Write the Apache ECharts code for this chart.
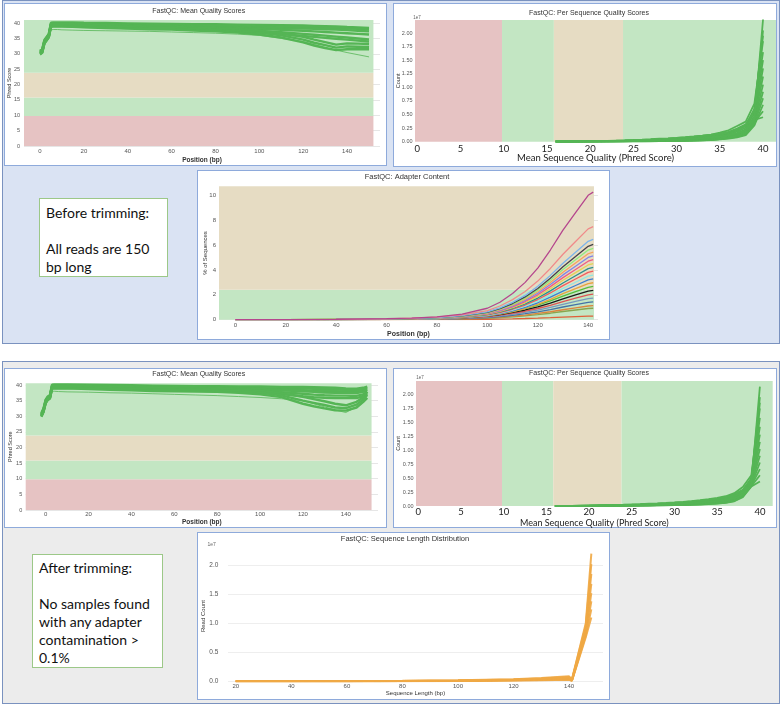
<!DOCTYPE html>
<html><head><meta charset="utf-8">
<script src="https://cdn.jsdelivr.net/npm/echarts/dist/echarts.min.js"></script>
<style>
html,body{margin:0;padding:0;background:#fff}
body{width:782px;height:706px;position:relative;overflow:hidden}
.sec,.panel,.chart,.note{position:absolute;box-sizing:border-box}
.sec{border:1.5px solid #7a92bf}
.panel{background:#fff;border:1.5px solid #8eaadb}
.note{background:#fff;border:1.5px solid #9cc888;font-family:Lato,"Open Sans",sans-serif;font-size:14px;line-height:18px;color:#111;padding-left:6px;white-space:nowrap}
</style></head>
<body>
<div class="sec" style="left:2px;top:0px;width:778px;height:344px;background:#dae3f3"></div>
<div class="sec" style="left:2px;top:361px;width:778px;height:343px;background:#ececec"></div>

<div class="panel" style="left:4px;top:3px;width:383px;height:163px"></div>
<div class="panel" style="left:393px;top:3px;width:384px;height:164px"></div>
<div class="panel" style="left:197px;top:170px;width:413px;height:170px"></div>
<div class="panel" style="left:4px;top:368px;width:383px;height:160px"></div>
<div class="panel" style="left:393px;top:368px;width:384px;height:160px"></div>
<div class="panel" style="left:197px;top:532px;width:413px;height:168px"></div>

<div class="note" style="left:39px;top:198px;width:129px;height:79px;padding-top:4.7px">Before trimming:<br><br>All reads are 150<br>bp long</div>
<div class="note" style="left:32px;top:554px;width:131px;height:114px;padding-top:3.7px">After trimming:<br><br>No samples found<br>with any adapter<br>contamination &gt;<br>0.1%</div>

<div id="cTL" class="chart"></div>
<div id="cTR" class="chart"></div>
<div id="cAD" class="chart"></div>
<div id="cBL" class="chart"></div>
<div id="cBR" class="chart"></div>
<div id="cSL" class="chart"></div>

<script>
// ---------------- DATA ----------------
// Phred band thresholds
const qualThresholds = [9.8, 15.8, 23.8];
const adapterThreshold = 2.4;

// Mean quality scores, before trimming
const mqBeforeX = [0,1,2,3,4,5,6,8,10,15,20,30,40,50,60,70,80,90,100,110,120,125,130,135,140,145,150];
const mqBeforeT1 = [31.0,31.5,34.5,35.5,36.5,40.1,40.2,40.2,40.2,40.2,40.1,40.0,39.9,39.8,39.7,39.6,39.6,39.5,39.4,39.3,39.2,39.1,39.0,38.9,38.7,38.6,38.4];
const mqBeforeT2 = [30.5,31.0,34.0,35.0,36.0,39.6,39.7,39.7,39.7,39.7,39.6,39.5,39.4,39.3,39.2,39.1,39.1,39.0,38.9,38.8,38.7,38.6,38.5,38.4,38.2,38.1,37.9];
const mqBeforeT3 = [30.0,30.5,33.5,34.5,35.5,39.1,39.2,39.2,39.2,39.2,39.1,39.0,38.9,38.8,38.7,38.6,38.6,38.5,38.4,38.3,38.2,38.1,38.0,37.9,37.7,37.5,37.3];
const mqBeforeM1 = [30.8,31.3,34.3,35.3,36.3,39.9,39.9,39.9,39.9,39.8,39.7,39.5,39.3,39.1,39.0,38.8,38.6,38.4,38.1,37.8,37.5,37.3,37.1,36.9,36.7,36.5,36.3];
const mqBeforeM2 = [30.3,30.8,33.8,34.8,35.8,39.4,39.4,39.4,39.4,39.3,39.2,39.0,38.8,38.6,38.5,38.3,38.1,37.8,37.4,37.0,36.5,36.2,35.9,35.6,35.3,35.0,34.7];
const mqBeforeM3 = [30.0,30.5,33.5,34.5,35.5,38.9,39.0,39.0,39.0,38.9,38.8,38.6,38.4,38.2,38.1,37.9,37.6,37.3,36.9,36.4,35.8,35.5,35.2,34.9,34.6,34.3,34.0];
const mqBeforeL1 = [30.6,31.1,34.1,35.1,36.1,39.7,39.7,39.7,39.7,39.6,39.5,39.3,39.1,38.9,38.8,38.5,38.3,38.0,37.5,36.7,35.5,34.6,33.8,33.0,33.4,33.3,33.2];
const mqBeforeL2 = [30.2,30.7,33.7,34.7,35.7,39.2,39.3,39.3,39.3,39.2,39.1,38.9,38.7,38.5,38.4,38.1,37.8,37.4,36.9,36.0,34.6,33.6,32.8,32.0,32.4,32.3,32.2];
const mqBeforeL3 = [29.8,30.3,33.3,34.3,35.3,38.8,38.9,38.9,38.9,38.8,38.6,38.4,38.2,38.0,37.9,37.6,37.3,36.9,36.3,35.3,33.7,32.7,31.9,31.2,31.5,31.5,31.5];
const mqBeforeO1 = [30.5,31.0,34.0,35.0,36.0,37.8,37.9,37.9,37.8,37.7,37.6,37.5,37.4,37.3,37.1,36.9,36.7,36.4,36.0,35.0,34.0,33.0,32.0,31.2,30.4,29.7,29.0];

// Mean quality scores, after trimming
const mqAfterX = [-2,-1,0,1,2,3,4,6,10,20,30,40,50,60,70,80,90,100,110,120,125,130,135,140,145,148,150];
const mqAfterT1 = [31.0,32.5,35.3,36.3,36.8,40.1,40.2,40.2,40.2,40.1,40.0,39.9,39.8,39.7,39.6,39.6,39.5,39.5,39.4,39.4,39.3,39.2,39.1,38.9,38.8,39.1,39.5];
const mqAfterT2 = [30.5,32.0,34.8,35.8,36.3,39.6,39.7,39.7,39.7,39.6,39.5,39.4,39.3,39.2,39.1,39.1,39.0,39.0,38.9,38.9,38.8,38.7,38.6,38.4,38.3,38.7,39.1];
const mqAfterT3 = [30.0,31.5,34.3,35.3,35.8,39.1,39.2,39.2,39.2,39.1,39.0,38.9,38.8,38.7,38.6,38.6,38.5,38.5,38.4,38.3,38.2,38.1,38.0,37.9,37.8,38.2,38.7];
const mqAfterM1 = [30.8,32.3,35.1,36.1,36.6,39.9,39.9,39.9,39.9,39.8,39.7,39.5,39.3,39.2,39.1,39.0,38.9,38.7,38.3,38.0,37.8,37.6,37.5,37.5,37.4,37.8,38.4];
const mqAfterM2 = [30.3,31.8,34.6,35.6,36.1,39.4,39.4,39.4,39.4,39.3,39.2,39.0,38.8,38.7,38.6,38.5,38.3,38.1,37.7,37.2,36.9,36.7,36.6,36.6,36.5,37.0,37.8];
const mqAfterM3 = [30.0,31.5,34.3,35.3,35.8,38.9,39.0,39.0,39.0,38.9,38.8,38.6,38.4,38.3,38.2,38.0,37.8,37.5,37.1,36.4,36.1,35.9,35.8,35.8,35.8,36.4,37.3];
const mqAfterL1 = [30.6,32.1,34.9,36.0,36.5,39.7,39.7,39.7,39.7,39.6,39.5,39.3,39.1,39.0,38.9,38.8,38.6,38.2,37.3,36.2,35.5,34.8,34.0,33.5,34.6,36.0,37.8];
const mqAfterL2 = [30.2,31.7,34.5,35.6,36.1,39.2,39.3,39.3,39.3,39.2,39.0,38.8,38.6,38.5,38.4,38.3,38.0,37.6,36.7,35.0,34.3,33.6,32.8,32.6,33.7,35.3,36.8];
const mqAfterL3 = [29.8,31.3,34.1,35.2,35.7,38.8,38.9,38.9,38.9,38.7,38.5,38.3,38.1,38.0,37.9,37.8,37.5,37.0,36.1,34.0,33.2,32.5,31.9,31.8,32.8,34.5,35.9];
const mqAfterO1 = [30.5,32.0,34.8,35.8,36.3,38.0,38.0,37.9,37.8,37.7,37.5,37.4,37.2,37.0,36.8,36.6,36.3,36.0,35.6,35.0,34.0,33.0,32.0,31.2,33.0,35.0,36.8];

// Per sequence quality scores (counts in units of 1e7)
const psqX = [16,17,18,19,20,21,22,23,24,25,26,27,28,29,30,31,32,33,34,35,36,37,38,39,40];
const psqB01 = [0,0.001,0.002,0.003,0.004,0.005,0.007,0.009,0.011,0.014,0.017,0.021,0.026,0.032,0.039,0.047,0.056,0.067,0.080,0.097,0.120,0.155,0.210,0.420,2.25];
const psqB02 = [0,0.002,0.004,0.006,0.008,0.011,0.014,0.018,0.022,0.027,0.033,0.040,0.048,0.057,0.068,0.080,0.094,0.110,0.128,0.150,0.180,0.240,0.320,0.550,2.05];
const psqB03 = [0,0.002,0.004,0.006,0.009,0.012,0.016,0.020,0.025,0.031,0.038,0.046,0.055,0.062,0.070,0.082,0.096,0.112,0.132,0.165,0.210,0.290,0.370,0.700,1.85];
const psqB04 = [0,0.001,0.003,0.005,0.007,0.009,0.012,0.015,0.019,0.023,0.028,0.034,0.041,0.049,0.058,0.068,0.080,0.094,0.110,0.130,0.160,0.210,0.290,0.600,1.65];
const psqB05 = [0,0.001,0.002,0.004,0.006,0.008,0.010,0.013,0.016,0.020,0.024,0.029,0.035,0.042,0.050,0.059,0.069,0.081,0.095,0.113,0.140,0.185,0.260,0.520,1.50];
const psqB06 = [0,0.001,0.002,0.003,0.005,0.007,0.009,0.011,0.014,0.017,0.021,0.025,0.030,0.036,0.043,0.051,0.060,0.070,0.083,0.099,0.122,0.160,0.230,0.470,1.35];
const psqB07 = [0,0.001,0.002,0.003,0.004,0.006,0.008,0.010,0.012,0.015,0.018,0.022,0.026,0.031,0.037,0.044,0.052,0.061,0.072,0.086,0.106,0.140,0.200,0.420,1.20];
const psqB08 = [0,0.001,0.001,0.002,0.003,0.005,0.006,0.008,0.010,0.013,0.016,0.019,0.023,0.027,0.032,0.038,0.045,0.053,0.063,0.075,0.092,0.120,0.180,0.380,1.05];
const psqB09 = [0,0,0.001,0.002,0.003,0.004,0.005,0.007,0.009,0.011,0.013,0.016,0.019,0.023,0.027,0.032,0.038,0.045,0.054,0.065,0.080,0.105,0.160,0.340,0.92];
const psqB10 = [0,0,0.001,0.001,0.002,0.003,0.004,0.005,0.007,0.009,0.011,0.013,0.016,0.019,0.022,0.026,0.031,0.037,0.044,0.053,0.066,0.088,0.140,0.320,0.80];
const psqB11 = [0,0,0,0.001,0.001,0.002,0.003,0.004,0.005,0.006,0.008,0.010,0.012,0.014,0.017,0.020,0.024,0.029,0.035,0.045,0.058,0.080,0.120,0.300,0.68];
const psqB12 = [0,0,0,0.001,0.001,0.002,0.002,0.003,0.004,0.005,0.006,0.008,0.010,0.012,0.014,0.017,0.021,0.026,0.032,0.050,0.070,0.100,0.170,0.360,0.56];
const psqB13 = [0,0,0,0,0.001,0.001,0.002,0.003,0.004,0.005,0.006,0.007,0.009,0.011,0.013,0.016,0.020,0.025,0.031,0.048,0.075,0.110,0.190,0.400,0.45];
const psqB14 = [0,0.001,0.002,0.004,0.006,0.009,0.012,0.016,0.020,0.025,0.030,0.036,0.043,0.051,0.060,0.070,0.082,0.096,0.113,0.135,0.165,0.220,0.300,0.600,1.95];

const psqA01 = [0,0.001,0.002,0.003,0.004,0.005,0.007,0.009,0.011,0.014,0.017,0.021,0.025,0.030,0.036,0.043,0.051,0.061,0.073,0.088,0.108,0.140,0.200,0.400,2.14];
const psqA02 = [0,0.001,0.003,0.005,0.007,0.010,0.013,0.016,0.020,0.025,0.030,0.036,0.043,0.051,0.060,0.070,0.082,0.096,0.112,0.132,0.160,0.210,0.290,0.480,1.95];
const psqA03 = [0,0.002,0.004,0.006,0.008,0.011,0.014,0.018,0.022,0.027,0.033,0.040,0.047,0.055,0.064,0.075,0.088,0.103,0.121,0.145,0.175,0.230,0.340,0.550,1.75];
const psqA04 = [0,0.001,0.003,0.004,0.006,0.008,0.011,0.014,0.017,0.021,0.026,0.031,0.037,0.044,0.052,0.061,0.072,0.085,0.100,0.120,0.148,0.195,0.280,0.500,1.58];
const psqA05 = [0,0.001,0.002,0.004,0.005,0.007,0.009,0.012,0.015,0.018,0.022,0.027,0.032,0.038,0.045,0.053,0.063,0.074,0.088,0.106,0.130,0.175,0.260,0.470,1.42];
const psqA06 = [0,0.001,0.002,0.003,0.004,0.006,0.008,0.010,0.013,0.016,0.019,0.023,0.028,0.033,0.039,0.046,0.055,0.065,0.077,0.093,0.115,0.155,0.240,0.450,1.28];
const psqA07 = [0,0.001,0.002,0.003,0.004,0.005,0.007,0.009,0.011,0.014,0.017,0.020,0.024,0.029,0.034,0.040,0.048,0.057,0.068,0.082,0.102,0.140,0.225,0.430,1.15];
const psqA08 = [0,0.001,0.001,0.002,0.003,0.004,0.006,0.008,0.010,0.012,0.015,0.018,0.021,0.025,0.030,0.035,0.042,0.050,0.060,0.073,0.092,0.128,0.210,0.410,1.02];
const psqA09 = [0,0,0.001,0.002,0.003,0.004,0.005,0.007,0.008,0.010,0.013,0.015,0.018,0.022,0.026,0.031,0.037,0.044,0.053,0.065,0.083,0.118,0.200,0.390,0.90];
const psqA10 = [0,0,0.001,0.001,0.002,0.003,0.004,0.006,0.007,0.009,0.011,0.013,0.016,0.019,0.023,0.027,0.032,0.039,0.047,0.058,0.075,0.108,0.190,0.375,0.78];
const psqA11 = [0,0,0.001,0.001,0.002,0.002,0.003,0.005,0.006,0.008,0.010,0.012,0.014,0.017,0.020,0.024,0.029,0.035,0.042,0.052,0.068,0.100,0.180,0.365,0.66];
const psqA12 = [0,0,0,0.001,0.001,0.002,0.003,0.004,0.005,0.006,0.008,0.010,0.012,0.015,0.018,0.021,0.026,0.031,0.038,0.047,0.062,0.092,0.170,0.355,0.55];
const psqA13 = [0,0,0,0.001,0.001,0.001,0.002,0.003,0.004,0.005,0.007,0.008,0.010,0.012,0.015,0.018,0.022,0.027,0.033,0.042,0.056,0.085,0.160,0.350,0.44];
const psqA14 = [0,0.001,0.002,0.003,0.005,0.007,0.009,0.012,0.015,0.019,0.023,0.028,0.033,0.039,0.046,0.054,0.064,0.075,0.089,0.107,0.132,0.175,0.250,0.450,1.85];

// Adapter content (% of sequences), before trimming
const adX = [0,20,40,60,70,80,90,100,105,110,115,120,125,130,135,140,142];
const ad01 = [0,0.01,0.03,0.08,0.13,0.22,0.45,0.92,1.40,2.10,3.00,4.15,5.60,7.20,8.60,10.0,10.25];
const ad02 = [0,0.007,0.03,0.07,0.12,0.20,0.38,0.73,1.10,1.61,2.26,3.10,4.12,5.26,6.28,7.30,7.48];
const ad03 = [0,0.006,0.025,0.063,0.10,0.17,0.33,0.63,0.95,1.39,1.95,2.68,3.56,4.54,5.42,6.30,6.46];
const ad04 = [0,0.006,0.024,0.059,0.094,0.16,0.31,0.59,0.89,1.30,1.83,2.51,3.33,4.25,5.07,5.90,6.05];
const ad05 = [0,0.006,0.022,0.056,0.09,0.15,0.29,0.56,0.84,1.23,1.74,2.38,3.16,4.03,4.82,5.60,5.74];
const ad06 = [0,0.005,0.021,0.053,0.085,0.14,0.28,0.53,0.80,1.17,1.64,2.25,2.99,3.82,4.56,5.30,5.43];
const ad07 = [0,0.005,0.02,0.05,0.08,0.135,0.26,0.50,0.75,1.10,1.55,2.13,2.83,3.60,4.30,5.00,5.13];
const ad08 = [0,0.005,0.019,0.047,0.075,0.127,0.244,0.47,0.71,1.03,1.46,2.00,2.66,3.38,4.04,4.70,4.82];
const ad09 = [0,0.004,0.018,0.044,0.07,0.119,0.229,0.44,0.66,0.97,1.36,1.87,2.49,3.17,3.78,4.40,4.51];
const ad10 = [0,0.004,0.016,0.041,0.066,0.111,0.213,0.41,0.62,0.90,1.27,1.74,2.32,2.95,3.53,4.10,4.20];
const ad11 = [0,0.004,0.015,0.038,0.061,0.103,0.198,0.38,0.57,0.84,1.18,1.62,2.15,2.74,3.27,3.80,3.90];
const ad12 = [0,0.004,0.014,0.035,0.056,0.095,0.182,0.35,0.53,0.77,1.09,1.49,1.98,2.52,3.01,3.50,3.59];
const ad13 = [0,0.003,0.013,0.032,0.051,0.086,0.166,0.32,0.48,0.70,0.99,1.36,1.81,2.30,2.75,3.20,3.28];
const ad14 = [0,0.003,0.012,0.029,0.046,0.078,0.151,0.29,0.44,0.64,0.90,1.23,1.64,2.09,2.49,2.90,2.97];
const ad15 = [0,0.005,0.016,0.036,0.057,0.091,0.169,0.325,0.47,0.65,0.88,1.17,1.51,1.90,2.25,2.60,2.67];
const ad16 = [0,0.005,0.014,0.032,0.051,0.081,0.15,0.29,0.41,0.58,0.78,1.04,1.33,1.68,1.99,2.30,2.36];
const ad17 = [0,0.004,0.012,0.028,0.044,0.07,0.13,0.25,0.36,0.50,0.68,0.90,1.16,1.46,1.73,2.00,2.05];
const ad18 = [0,0.003,0.01,0.024,0.037,0.06,0.11,0.21,0.31,0.43,0.58,0.77,0.99,1.24,1.47,1.70,1.74];
const ad19 = [0,0.003,0.008,0.02,0.031,0.049,0.091,0.175,0.25,0.35,0.48,0.63,0.81,1.02,1.21,1.40,1.44];
const ad20 = [0,0.002,0.007,0.015,0.024,0.039,0.072,0.14,0.20,0.28,0.37,0.50,0.64,0.80,0.95,1.10,1.13];
const ad21 = [0,0.002,0.005,0.013,0.02,0.032,0.059,0.11,0.16,0.23,0.31,0.41,0.52,0.66,0.78,0.90,0.92];
const ad22 = [0,0.001,0.002,0.004,0.006,0.01,0.018,0.035,0.05,0.07,0.095,0.126,0.162,0.204,0.242,0.28,0.287];

// Sequence length distribution (read counts in 1e7), after trimming
const slX = [20,40,60,80,100,120,130,140,141,146,148];
const sl1 = [0.001,0.002,0.004,0.008,0.016,0.036,0.056,0.086,0.030,1.00,2.20];
const sl2 = [0.001,0.002,0.003,0.007,0.014,0.032,0.050,0.076,0.026,0.96,2.02];
const sl3 = [0.001,0.002,0.003,0.006,0.012,0.028,0.044,0.066,0.022,0.92,1.85];
const sl4 = [0.001,0.001,0.003,0.005,0.011,0.025,0.039,0.057,0.019,0.88,1.68];
const sl5 = [0.000,0.001,0.002,0.005,0.010,0.022,0.034,0.049,0.016,0.85,1.52];
const sl6 = [0.000,0.001,0.002,0.004,0.008,0.019,0.029,0.041,0.013,0.82,1.38];
const sl7 = [0.000,0.001,0.002,0.003,0.007,0.016,0.024,0.034,0.010,0.79,1.24];
const sl8 = [0.000,0.001,0.001,0.003,0.006,0.013,0.019,0.027,0.008,0.76,1.10];

// ---------------- STYLE / HELPERS ----------------
const F = '"Liberation Sans", Arial, sans-serif';
const LF = 'Lato, "Open Sans", sans-serif';
const GREEN = '#c3e6c3', BEIGE = '#e6dcc3', RED = '#e6c3c3';
const QLINE = '#55b555';
const adPalette = ['#b5468d','#f08a8a','#7cb5ec','#434348','#90ed7d','#f7a35c','#8085e9','#f15c80','#e4d354','#2b908f','#f45b5b','#91e8e1','#3f7fd0','#e8a33d','#55bf3b','#1a1a1a','#df5353','#7798bf','#4572a7','#db843d','#89a54e','#e0603a'];

function lineSeries(xs, ys, color, width, extra) {
  return Object.assign({
    type:'line', data: xs.map((x, i) => [x, ys[i]]), showSymbol:false, symbol:'none',
    lineStyle:{color:color, width:width}, itemStyle:{color:color}, z:2, silent:true,
    animation:false, emphasis:{disabled:true}, clip:true
  }, extra || {});
}
function bandSeries(list) {
  return {
    type:'line', data:[], z:1, silent:true, animation:false,
    markArea:{silent:true, animation:false, label:{show:false}, emphasis:{disabled:true},
      data: list.map(b => [{xAxis:b[0], yAxis:b[2], itemStyle:{color:b[4], opacity:1, borderWidth:0}}, {xAxis:b[1], yAxis:b[3]}])}
  };
}
function valAxis(o) {
  const ax = {
    type:'value', min:o.min, max:o.max, minInterval:o.step, maxInterval:o.step,
    splitNumber: Math.max(1, Math.round((o.max - o.min) / o.step)),
    axisLine:{show:false}, axisTick:{show:false},
    splitLine: o.grid ? {show:true, showMinLine:true, showMaxLine:false, lineStyle:{color:o.grid, width:1}} : {show:false},
    axisLabel:{fontSize:o.fs, color:o.lc || '#555', fontFamily:o.ff || F, margin:o.margin, showMinLabel:o.showMin, showMaxLabel:false},
    name:o.name, nameLocation:'middle', nameGap:o.gap, nameMoveOverlap:false,
    nameTextStyle:{fontSize:o.nfs, color:o.nc || '#333', fontFamily:o.nff || F, fontWeight:o.nfw || 'normal'}
  };
  if (o.fmt) ax.axisLabel.formatter = o.fmt;
  return ax;
}
function txt(t, x, y, size, color, weight, family) {
  return {type:'text', x:x, y:y, silent:true, z:10,
    style:{text:t, fill:color || '#333', font:(weight || 'normal') + ' ' + size + 'px ' + (family || F), align:'center', verticalAlign:'middle'}};
}
function makeChart(id, rect, opt) {
  const el = document.getElementById(id);
  el.style.left = rect[0] + 'px'; el.style.top = rect[1] + 'px';
  el.style.width = rect[2] + 'px'; el.style.height = rect[3] + 'px';
  const ch = echarts.init(el, null, {renderer:'canvas', width:rect[2], height:rect[3]});
  opt.animation = false;
  opt.backgroundColor = 'transparent';
  ch.setOption(opt);
}
function qualBands(x0, x1, yTop) {
  const t = qualThresholds;
  return bandSeries([
    [x0, x1, 0, t[0], RED], [x0, x1, t[0], t[1], GREEN],
    [x0, x1, t[1], t[2], BEIGE], [x0, x1, t[2], yTop, GREEN]
  ]);
}
function phredBands(x0, x1, yTop) {
  const t = qualThresholds;
  return bandSeries([
    [x0, t[0], 0, yTop, RED], [t[0], t[1], 0, yTop, GREEN],
    [t[1], t[2], 0, yTop, BEIGE], [t[2], x1, 0, yTop, GREEN]
  ]);
}

// ---------------- TOP-LEFT: Mean quality (before) ----------------
(function(){
  const xs = mqBeforeX;
  const groups = [mqBeforeT1, mqBeforeT2, mqBeforeT3, mqBeforeM1, mqBeforeM2, mqBeforeM3, mqBeforeL1, mqBeforeL2, mqBeforeL3];
  const series = [qualBands(-7.3, 152, 41)];
  groups.forEach(g => series.push(lineSeries(xs, g, QLINE, 2.4)));
  series.push(lineSeries(xs, mqBeforeO1, QLINE, 0.8));
  makeChart('cTL', [4, 3, 383, 163], {
    grid:{left:20, top:17, width:356, height:126, containLabel:false, outerBoundsMode:'none'},
    xAxis: valAxis({min:-7.3, max:155, step:20, fs:6, margin:2.5, showMin:false, name:'Position (bp)', gap:10.5, nfs:6.5, nfw:'bold'}),
    yAxis: valAxis({min:0, max:41, step:5, fs:5.5, margin:4, showMin:true, grid:'#e6e6e6', name:'Phred Score', gap:11.5, nfs:5.5}),
    graphic:[txt('FastQC: Mean Quality Scores', 194.7, 7.7, 7, '#333')],
    series: series
  });
})();

// ---------------- BOTTOM-LEFT: Mean quality (after) ----------------
(function(){
  const xs = mqAfterX;
  const groups = [mqAfterT1, mqAfterT2, mqAfterT3, mqAfterM1, mqAfterM2, mqAfterM3, mqAfterL1, mqAfterL2, mqAfterL3];
  const series = [qualBands(-9.3, 152, 40.54)];
  groups.forEach(g => series.push(lineSeries(xs, g, QLINE, 2.4)));
  series.push(lineSeries(xs, mqAfterO1, QLINE, 0.8));
  makeChart('cBL', [4, 368, 383, 160], {
    grid:{left:21.7, top:15.3, width:352.3, height:126.7, containLabel:false, outerBoundsMode:'none'},
    xAxis: valAxis({min:-9.3, max:155, step:20, fs:6, margin:1.5, showMin:false, name:'Position (bp)', gap:9, nfs:6.5, nfw:'bold'}),
    yAxis: valAxis({min:0, max:40.54, step:5, fs:5.5, margin:3.5, showMin:true, grid:'#e6e6e6', name:'Phred Score', gap:12, nfs:5.5}),
    graphic:[txt('FastQC: Mean Quality Scores', 194.7, 6, 7, '#333')],
    series: series
  });
})();

// ---------------- TOP-RIGHT: Per sequence quality (before) ----------------
(function(){
  const sets = [psqB13, psqB12, psqB11, psqB10, psqB09, psqB08, psqB07, psqB06, psqB05, psqB04, psqB03, psqB14, psqB02, psqB01];
  const series = [phredBands(-0.27, 41.5, 2.24)];
  sets.forEach(s => series.push(lineSeries(psqX, s, QLINE, 1.8)));
  makeChart('cTR', [393, 3, 384, 164], {
    grid:{left:22, top:17, width:361, height:121.7, containLabel:false, outerBoundsMode:'none'},
    xAxis: valAxis({min:-0.27, max:41.5, step:5, fs:9.5, ff:LF, lc:'#222', margin:2, showMin:false, name:'Mean Sequence Quality (Phred Score)', gap:11, nfs:9.5, nff:LF, nc:'#222'}),
    yAxis: valAxis({min:0, max:2.24, step:0.25, fs:5.5, margin:2.5, showMin:true, name:'Count', gap:14, nfs:5.5, fmt: v => v.toFixed(2)}),
    graphic:[txt('FastQC: Per Sequence Quality Scores', 196, 9.7, 7, '#333'), txt('1e7', 24, 14.7, 4.5, '#666')],
    series: series
  });
})();

// ---------------- BOTTOM-RIGHT: Per sequence quality (after) ----------------
(function(){
  const sets = [psqA13, psqA12, psqA11, psqA10, psqA09, psqA08, psqA07, psqA06, psqA05, psqA04, psqA03, psqA14, psqA02, psqA01];
  const series = [phredBands(-0.27, 41.5, 2.24)];
  sets.forEach(s => series.push(lineSeries(psqX, s, QLINE, 1.8)));
  makeChart('cBR', [393, 368, 384, 160], {
    grid:{left:23, top:13, width:356.7, height:125, containLabel:false, outerBoundsMode:'none'},
    xAxis: valAxis({min:-0.27, max:41.5, step:5, fs:9.5, ff:LF, lc:'#222', margin:0.5, showMin:false, name:'Mean Sequence Quality (Phred Score)', gap:12.5, nfs:9, nff:LF, nc:'#222'}),
    yAxis: valAxis({min:0, max:2.24, step:0.25, fs:5.5, margin:2.5, showMin:true, name:'Count', gap:15, nfs:5.5, fmt: v => v.toFixed(2)}),
    graphic:[txt('FastQC: Per Sequence Quality Scores', 196, 5.3, 7, '#333'), txt('1e7', 27, 9.7, 4.5, '#666')],
    series: series
  });
})();

// ---------------- ADAPTER CONTENT ----------------
(function(){
  const sets = [ad22, ad21, ad20, ad19, ad18, ad17, ad16, ad15, ad14, ad13, ad12, ad11, ad10, ad09, ad08, ad07, ad06, ad05, ad04, ad03, ad02, ad01];
  const series = [bandSeries([
    [-6.47, 142.3, 0, adapterThreshold, GREEN],
    [-6.47, 142.3, adapterThreshold, 10.72, BEIGE]
  ])];
  sets.forEach((s, i) => {
    const c = adPalette[(sets.length - 1 - i) % adPalette.length];
    series.push(lineSeries(adX, s, c, 1.3));
  });
  makeChart('cAD', [197, 170, 413, 170], {
    grid:{left:22, top:16.3, width:379, height:133.4, containLabel:false, outerBoundsMode:'none'},
    xAxis: valAxis({min:-6.47, max:143.9, step:20, fs:6, margin:2.6, showMin:false, name:'Position (bp)', gap:10.5, nfs:7, nfw:'bold'}),
    yAxis: valAxis({min:0, max:10.72, step:2, fs:6, margin:3, showMin:true, grid:'#e6e6e6', name:'% of Sequences', gap:11, nfs:6}),
    graphic:[txt('FastQC: Adapter Content', 210, 7.3, 7.5, '#333')],
    series: series
  });
})();

// ---------------- SEQUENCE LENGTH DISTRIBUTION ----------------
(function(){
  const sets = [sl8, sl7, sl6, sl5, sl4, sl3, sl2, sl1];
  const series = sets.map(s => lineSeries(slX, s, '#f0a945', 2, {lineStyle:{color:'#f0a945', width:2, opacity:0.9}}));
  makeChart('cSL', [197, 532, 413, 168], {
    grid:{left:31, top:18.8, width:375, height:130.5, containLabel:false, outerBoundsMode:'none'},
    xAxis: valAxis({min:17.2, max:152.2, step:20, fs:6, margin:1.8, showMin:false, name:'Sequence Length (bp)', gap:9.5, nfs:6}),
    yAxis: valAxis({min:0, max:2.25, step:0.5, fs:6.5, margin:9.7, showMin:true, grid:'#eeeeee', name:'Read Count', gap:22, nfs:6, fmt: v => v.toFixed(1)}),
    graphic:[txt('FastQC: Sequence Length Distribution', 208, 6.7, 7.5, '#333'), txt('1e7', 14.7, 12.7, 5, '#666')],
    series: series
  });
})();
</script>
</body></html>
